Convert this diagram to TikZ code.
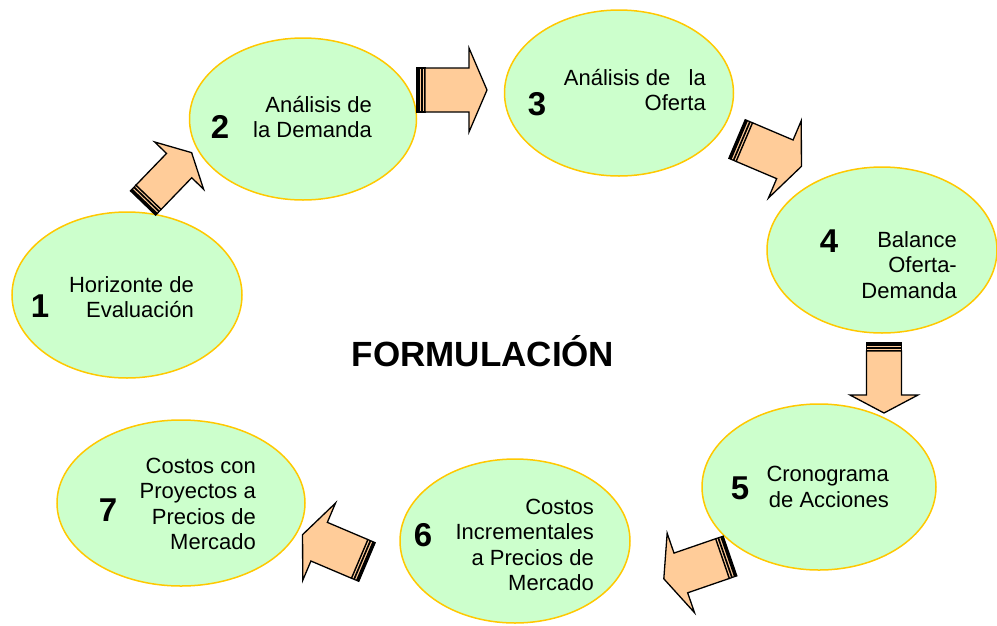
\documentclass[tikz,border=0pt]{standalone}
\usepackage{fontspec}
\setmainfont{Liberation Sans}
\usetikzlibrary{shapes.geometric}
\definecolor{elfill}{HTML}{CCFFCC}
\definecolor{elline}{HTML}{FFC800}
\definecolor{arrfill}{HTML}{FFCC99}
% #1,#2 tail centre, #3 angle, #4 half shaft width, #5 half head width
\newcommand\blockarr[5]{%
  \begin{scope}[shift={(#1,#2)}, rotate=#3]
    \filldraw[fill=arrfill, draw=black, line width=1.2pt] (0,-#4) rectangle (8,#4);
    \fill[black] (0,-#4) rectangle (3,#4);
    \fill[black] (4.3,-#4) rectangle (6,#4);
    \filldraw[fill=arrfill, draw=black, line width=1.3pt, line join=miter]
      (8,-#4) -- (52,-#4) -- (52,-#5) -- (70,0) -- (52,#5) -- (52,#4) -- (8,#4) -- cycle;
  \end{scope}}
\begin{document}
\begin{tikzpicture}[x=1pt,y=-1pt,
  bub/.style={ellipse, draw=elline, fill=elfill, line width=1.5pt, inner sep=0pt},
  txt/.style={align=right, inner sep=0pt, anchor=east, font=\fontsize{22}{25.5}\selectfont},
  num/.style={inner sep=0pt, font=\fontsize{33}{33}\selectfont\bfseries},
  title/.style={inner sep=0pt, font=\fontsize{35}{35}\selectfont\bfseries}]
\useasboundingbox (0,0) rectangle (997,625);
% ellipses
\node[bub, minimum width=230pt, minimum height=166pt] (e1) at (127,295) {};
\node[bub, minimum width=227pt, minimum height=162pt] (e2) at (303,119) {};
\node[bub, minimum width=229pt, minimum height=166pt] (e3) at (619,93) {};
\node[bub, minimum width=230pt, minimum height=166pt] (e4) at (882,250) {};
\node[bub, minimum width=234pt, minimum height=166pt] (e5) at (819,487) {};
\node[bub, minimum width=230pt, minimum height=164pt] (e6) at (515,541) {};
\node[bub, minimum width=248pt, minimum height=166pt] (e7) at (181,503) {};
% arrows
\blockarr{143}{203}{46}{17.5}{34}
\blockarr{417}{90}{0}{22}{42}
\blockarr{737}{139}{-23}{21}{42}
\blockarr{884}{343}{-90}{17.5}{34}
\blockarr{730}{556}{199}{21}{42}
\blockarr{367}{562}{157}{21}{42}
% numbers
\node[num] (n1) at (40,306) {1};
\node[num] (n2) at (220,127) {2};
\node[num] (n3) at (537,104) {3};
\node[num] (n4) at (829,241) {4};
\node[num] (n5) at (740,488) {5};
\node[num] (n6) at (423,535) {6};
\node[num] (n7) at (108,510) {7};
% texts
\node[txt] (t1) at (194,297) {Horizonte de\\Evaluación};
\node[txt] (t2) at (372,117) {Análisis de\\la Demanda};
\node[txt] (t3) at (706,90) {Análisis de\ \ \ la\\Oferta};
\node[txt] (t4) at (957,265) {Balance\\Oferta-\\Demanda};
\node[txt] (t5) at (889,487) {Cronograma\\de Acciones};
\node[txt] (t6) at (594,545) {Costos\\Incrementales\\a Precios de\\Mercado};
\node[txt] (t7) at (256,504) {Costos con\\Proyectos a\\Precios de\\Mercado};
\node[title] (ttl) at (483,351) {FORMULACIÓN};
\end{tikzpicture}
\end{document}
